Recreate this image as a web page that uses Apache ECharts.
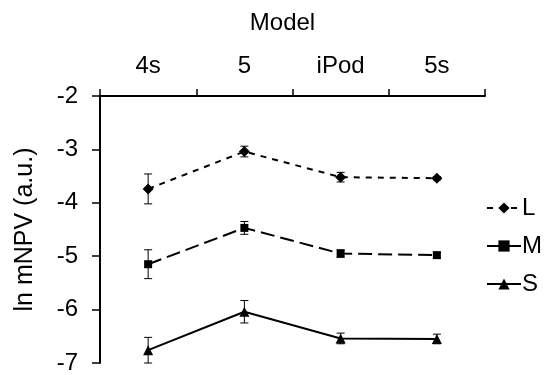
<!DOCTYPE html>
<html>
<head>
<meta charset="utf-8">
<script src="https://cdn.jsdelivr.net/npm/echarts@6/dist/echarts.min.js"></script>
<style>
  html, body { margin: 0; padding: 0; background: #fff; }
  #chart { width: 548px; height: 375px; }
</style>
</head>
<body>
<div id="chart"></div>
<script>
var models = ['4s', '5', 'iPod', '5s']

var meanL = [-3.74, -3.04, -3.52, -3.54]
var errL = [0.28, 0.10, 0.09, 0.03]
var meanM = [-5.15, -4.47, -4.95, -4.98]
var errM = [0.27, 0.12, 0.07, 0.05]
var meanS = [-6.76, -6.04, -6.54, -6.55]
var errS = [0.24, 0.21, 0.10, 0.09]

var font = 'Liberation Sans, Arial, sans-serif'

function bars (means, errs) {
  return means.map(function (v, i) { return [i, v - errs[i], v + errs[i]] })
}
function renderErr (params, api) {
  var lo = api.coord([api.value(0), api.value(1)])
  var hi = api.coord([api.value(0), api.value(2)])
  var w = 4
  var style = { stroke: '#000', lineWidth: 1 }
  return {
    type: 'group',
    children: [
      { type: 'line', shape: { x1: lo[0], y1: lo[1], x2: hi[0], y2: hi[1] }, style: style },
      { type: 'line', shape: { x1: lo[0] - w, y1: lo[1], x2: lo[0] + w, y2: lo[1] }, style: style },
      { type: 'line', shape: { x1: hi[0] - w, y1: hi[1], x2: hi[0] + w, y2: hi[1] }, style: style }
    ]
  }
}
function errSeries (means, errs) {
  return {
    type: 'custom',
    renderItem: renderErr,
    data: bars(means, errs),
    silent: true,
    z: 3
  }
}
function lineSeries (name, means, symbol, size, dash) {
  return {
    name: name,
    type: 'line',
    data: means,
    symbol: symbol,
    symbolSize: size,
    showAllSymbol: true,
    itemStyle: { color: '#000' },
    lineStyle: { color: '#000', width: 2, type: dash },
    z: 4
  }
}

var chart = echarts.init(document.getElementById('chart'))
var option = {
  animation: false,
  backgroundColor: '#fff',
  grid: { left: 100, top: 96, width: 385, height: 270 },
  legend: {
    orient: 'vertical',
    left: 481,
    top: 191,
    itemWidth: 34,
    itemHeight: 14,
    itemGap: 14,
    data: ['L', 'M', 'S'],
    textStyle: { color: '#000', fontSize: 24, fontFamily: font, padding: [0, 0, 0, -4] }
  },
  xAxis: {
    type: 'category',
    position: 'top',
    data: models,
    name: 'Model',
    nameLocation: 'middle',
    nameGap: 61,
    nameTextStyle: { color: '#000', fontSize: 24, fontFamily: font, padding: [0, 20, 0, 0] },
    axisLine: { lineStyle: { color: '#000', width: 2 } },
    axisTick: { show: true, length: 7, lineStyle: { color: '#000', width: 1.5 } },
    axisLabel: { color: '#000', fontSize: 24, fontFamily: font, margin: 18 },
    splitLine: { show: false }
  },
  yAxis: {
    type: 'value',
    min: -7,
    max: -2,
    interval: 1,
    name: 'ln mNPV (a.u.)',
    nameLocation: 'middle',
    nameGap: 62,
    nameTextStyle: { color: '#000', fontSize: 25, fontFamily: font },
    axisLine: { show: true, lineStyle: { color: '#000', width: 2 } },
    axisTick: { show: true, length: 8, lineStyle: { color: '#000', width: 1.5 } },
    axisLabel: { color: '#000', fontSize: 24, fontFamily: font, margin: 22 },
    splitLine: { show: false }
  },
  series: [
    lineSeries('L', meanL, 'diamond', 11, [6, 6]),
    lineSeries('M', meanM, 'rect', 8, [14, 6]),
    lineSeries('S', meanS, 'triangle', 10, 'solid'),
    errSeries(meanL, errL),
    errSeries(meanM, errM),
    errSeries(meanS, errS)
  ]
}
chart.setOption(option)
</script>
</body>
</html>
